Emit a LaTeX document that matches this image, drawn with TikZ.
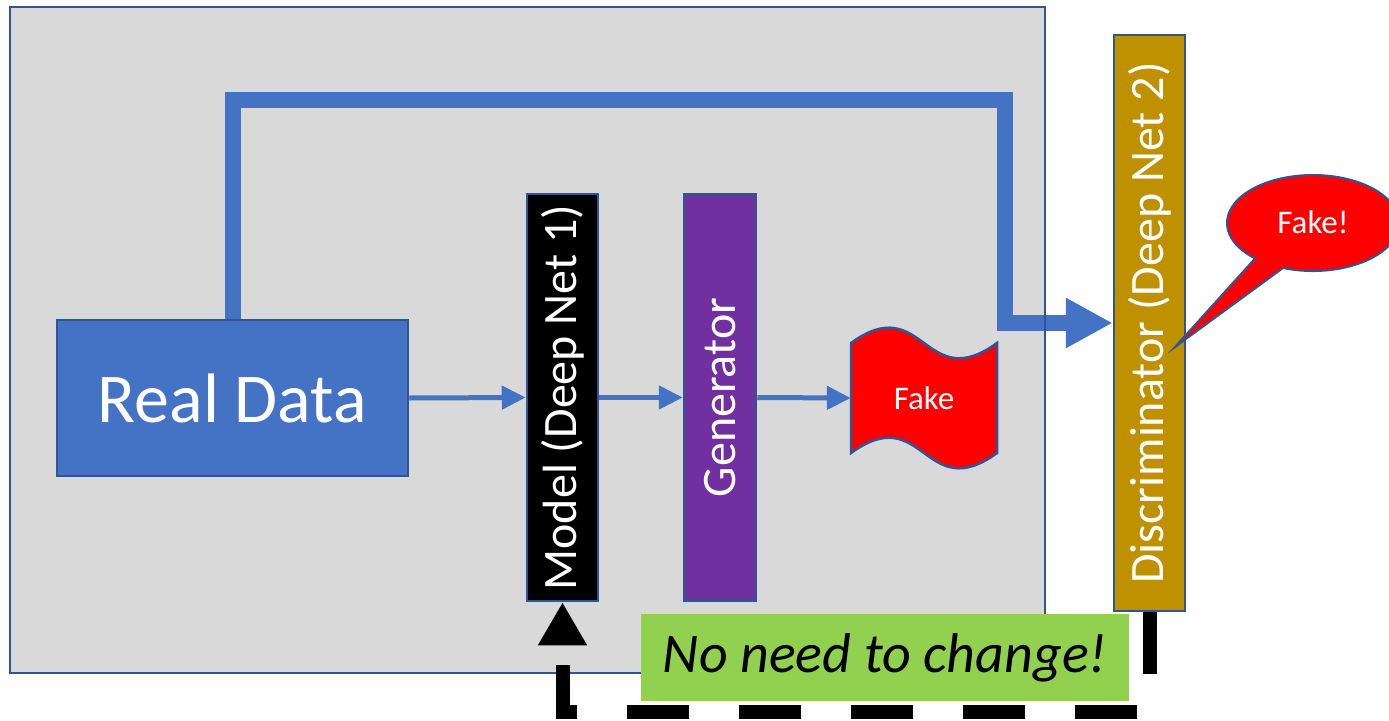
\documentclass[tikz,border=0pt]{standalone}
\usepackage{fontspec}
\usepackage{graphicx}
\setmainfont{Carlito}
\usetikzlibrary{arrows.meta,calc}

\definecolor{panelgray}{HTML}{D9D9D9}
\definecolor{edgeblue}{HTML}{2F5597}
\definecolor{flowblue}{HTML}{4472C4}
\definecolor{genpurple}{HTML}{7030A0}
\definecolor{discgold}{HTML}{BF9000}
\definecolor{notegreen}{HTML}{92D050}
\definecolor{alertred}{HTML}{FF0000}

\begin{document}
\begin{tikzpicture}[x=1pt,y=-1pt,
  box/.style={draw=edgeblue, line width=2.5pt, inner sep=0pt, text=white},
  bigfont/.style={font=\fontsize{70}{80}\selectfont},
  netfont/.style={font=\fontsize{48}{56}\selectfont},
  smallfont/.style={font=\fontsize{33}{40}\selectfont},
  thinflow/.style={draw=flowblue, line width=5pt, -{Triangle[length=24pt,width=23pt]}},
  thickflow/.style={draw=flowblue, line width=16pt, -{Triangle[length=47pt,width=47pt]}},
  feedback/.style={draw=black, line width=14pt, dash pattern=on 62pt off 50pt,
                   -{Triangle[length=43pt,width=46pt]}},
  outline/.style={draw=edgeblue, line width=2.5pt}]

\useasboundingbox (0,0) rectangle (1389,720);

% grey panel (its border is stroked later, above the wide flow line)
\node[fill=panelgray, inner sep=0pt, minimum width=1035pt, minimum height=666pt]
  (panel) at (527.5,340) {};

% corner of the wide flow line and the floor of the feedback loop
\coordinate (toprow) at (1005,100);
\coordinate (floor) at (0,712);

% boxes
\node[box, fill=flowblue, bigfont, minimum width=351pt, minimum height=156pt]
  (rd) at (232.5,398) {Real Data};
\node[box, fill=discgold, netfont, minimum width=71pt, minimum height=576pt]
  (disc) at (1149.5,323) {\rotatebox{90}{Discriminator (Deep Net 2)}};

% wide flow: real data straight to the discriminator
\draw[thickflow] (rd.north) |- (toprow) |- (disc.west);

\draw[outline] (panel.north west) rectangle (panel.south east);

\node[box, fill=black, netfont, minimum width=71pt, minimum height=407pt]
  (model) at (562.5,397.5) {\rotatebox{90}{Model (Deep Net 1)}};
\node[box, fill=genpurple, netfont, minimum width=72pt, minimum height=407pt]
  (gen) at (720,397.5) {\rotatebox{90}{Generator}};

% waving "Fake" banner
\draw[outline, fill=alertred]
  (851,343) .. controls (924,290) and (924,396) .. (997,343)
  -- (997,453) .. controls (924,506) and (924,400) .. (851,453) -- cycle;
\node[inner sep=0pt, minimum width=146pt, minimum height=110pt, text=white, smallfont]
  (fake) at (924,398) {Fake};

% thin flow arrows
\draw[thinflow] (rd.east) -- (model.west);
\draw[thinflow] (model.east) -- (gen.west);
\draw[thinflow] (gen.east) -- (fake.west);

% speech bubble
\draw[outline, line width=2pt, fill=alertred]
  (1175,347) -- (1283,268)
  arc[start angle=110.4, end angle=-227.6, x radius=86, y radius=48] -- cycle;
\node[text=white, smallfont, inner sep=0pt] (bubble) at (1313,222) {Fake!};

% feedback loop
\draw[feedback] (disc.south) -- (disc.south |- floor) -| (model.south);

% note
\node[fill=notegreen, inner sep=0pt, minimum width=488pt, minimum height=87pt,
      font=\fontsize{56}{64}\selectfont\itshape]
  (note) at (885,657.5) {No need to change!};
\end{tikzpicture}
\end{document}
